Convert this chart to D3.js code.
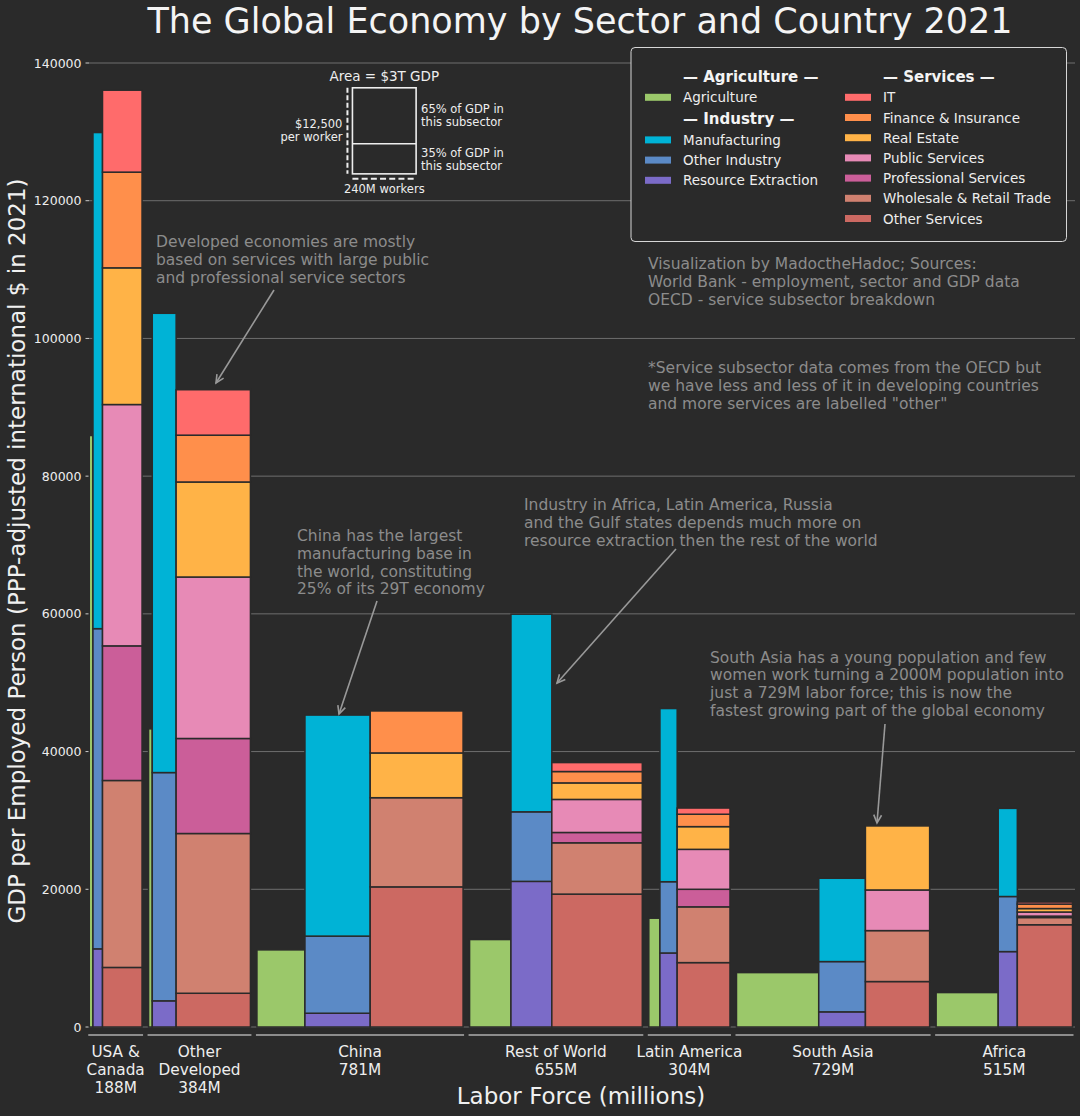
<!DOCTYPE html>
<html>
<head>
<meta charset="utf-8">
<script src="https://cdn.jsdelivr.net/npm/d3@7"></script>
<style>
  body { margin: 0; background: #2a2a2a; }
  svg { display: block; font-family: "DejaVu Sans", sans-serif; }
</style>
</head>
<body>
<div id="chart"></div>
<script>
// regions on the x axis and their labor force (millions)
var regions = ["USA &\nCanada", "Other\nDeveloped", "China", "Rest of World", "Latin America", "South Asia", "Africa"];
var laborForce = [188, 384, 781, 655, 304, 729, 515];

// workers per sector (millions) -> bar widths
var agriWorkers     = [14, 14, 181, 156, 42, 310, 234];
var industryWorkers = [36, 90, 246, 154, 65, 176, 72];
var serviceWorkers  = [149, 280, 350, 341, 199, 242, 208];

// GDP per employed person in agriculture
var agriGdp = [85900, 43300, 11200, 12700, 15800, 7900, 5000];

// industry subsectors, GDP per worker contributed (bottom -> top)
var resourceExtraction = [11350, 3800, 2000, 21150, 10750, 2200, 10950];
var otherIndustry      = [46500, 33150, 11200, 10100, 10350, 7300, 8000];
var manufacturing      = [72050, 66700, 32100, 28700, 25150, 12100, 12800];

// service subsectors, GDP per worker contributed (bottom -> top)
var otherServices  = [8650, 4900, 20350, 19300, 9350, 6600, 14850];
var wholesale      = [27150, 23200, 12950, 7450, 8100, 7400, 1050];
var professional   = [19550, 13800, 0, 1500, 2550, 0, 200];
var publicServices = [35050, 23450, 0, 4800, 5800, 5900, 600];
var realEstate     = [19850, 13800, 6500, 2400, 3300, 9300, 500];
var finance        = [13900, 6800, 6100, 1650, 1800, 0, 650];
var it             = [11900, 6600, 0, 1300, 900, 0, 300];

var yTicks = [0, 20000, 40000, 60000, 80000, 100000, 120000, 140000];

// example box: 240M workers at $12,500 = $3T
var exampleWorkers = 240, examplePerWorker = 12500, exampleShares = [0.35, 0.65];

var bg = "#2a2a2a";
var colors = {
  agriculture: "#9bc86a",
  manufacturing: "#00b3d6", otherIndustry: "#5b8ac6", resourceExtraction: "#7b6bc8",
  it: "#ff6b6b", finance: "#ff8f4b", realEstate: "#ffb347", publicServices: "#e78ab6",
  professional: "#cb5e99", wholesale: "#d08170", otherServices: "#cc6962"
};

var width = 1080, height = 1116;
var svg = d3.select("#chart").append("svg")
    .attr("width", width).attr("height", height);
svg.append("rect").attr("width", width).attr("height", height).attr("fill", bg);

// lay the bars side by side, sector widths in millions of workers
var groupGap = 24.5;
var layout = [];
var cursor = 0;
regions.forEach(function(r, i) {
  var a = agriWorkers[i], ind = industryWorkers[i], s = serviceWorkers[i];
  layout.push({
    start: cursor,
    agri: [cursor, cursor + a],
    ind: [cursor + a, cursor + a + ind],
    serv: [cursor + a + ind, cursor + a + ind + s],
    end: cursor + a + ind + s
  });
  cursor += a + ind + s + groupGap;
});
var xMax = cursor - groupGap;

var x = d3.scaleLinear().domain([0, xMax]).range([89.25, 1072.5]);
var y = d3.scaleLinear().domain([0, 140000]).range([1027, 63]);

// gridlines
svg.append("g").selectAll("line").data(yTicks).enter().append("line")
    .attr("x1", 89).attr("x2", 1075)
    .attr("y1", function(d) { return y(d); }).attr("y2", function(d) { return y(d); })
    .attr("stroke", "#6e6e6e").attr("stroke-width", 1);

// y axis ticks + labels
var yAxis = svg.append("g");
yAxis.selectAll("line").data(yTicks).enter().append("line")
    .attr("x1", 85.5).attr("x2", 89)
    .attr("y1", function(d) { return y(d); }).attr("y2", function(d) { return y(d); })
    .attr("stroke", "#cccccc").attr("stroke-width", 1);
yAxis.selectAll("text").data(yTicks).enter().append("text")
    .attr("x", 81.5).attr("y", function(d) { return y(d) + 4.5; })
    .attr("text-anchor", "end").attr("fill", "#eeeeee").attr("font-size", "12.5px")
    .text(function(d) { return d; });

// stacked tables
var industryKeys = ["resourceExtraction", "otherIndustry", "manufacturing"];
var serviceKeys = ["otherServices", "wholesale", "professional", "publicServices", "realEstate", "finance", "it"];
var rows = regions.map(function(r, i) {
  return {
    i: i,
    resourceExtraction: resourceExtraction[i], otherIndustry: otherIndustry[i], manufacturing: manufacturing[i],
    otherServices: otherServices[i], wholesale: wholesale[i], professional: professional[i],
    publicServices: publicServices[i], realEstate: realEstate[i], finance: finance[i], it: it[i]
  };
});
var industryStack = d3.stack().keys(industryKeys)(rows);
var serviceStack = d3.stack().keys(serviceKeys)(rows);

var bars = svg.append("g").attr("stroke", bg).attr("stroke-width", 1.5);

// agriculture bars
bars.append("g").selectAll("rect").data(agriGdp).enter().append("rect")
    .attr("fill", colors.agriculture)
    .attr("x", function(d, i) { return x(layout[i].agri[0]); })
    .attr("width", function(d, i) { return x(layout[i].agri[1]) - x(layout[i].agri[0]); })
    .attr("y", function(d) { return y(d); })
    .attr("height", function(d) { return y(0) - y(d); });

function drawStack(stack, sector) {
  bars.append("g").selectAll("g").data(stack).enter().append("g")
      .attr("fill", function(d) { return colors[d.key]; })
    .selectAll("rect")
    .data(function(d) { return d.filter(function(s) { return s[1] - s[0] > 0; }); })
    .enter().append("rect")
      .attr("x", function(d) { return x(layout[d.data.i][sector][0]); })
      .attr("width", function(d) { var b = layout[d.data.i][sector]; return x(b[1]) - x(b[0]); })
      .attr("y", function(d) { return y(d[1]); })
      .attr("height", function(d) { return y(d[0]) - y(d[1]); });
}
drawStack(industryStack, "ind");
drawStack(serviceStack, "serv");

// group underlines and category labels
svg.append("g").selectAll("line").data(layout).enter().append("line")
    .attr("x1", function(d) { return x(d.start) - 1; })
    .attr("x2", function(d) { return x(d.end) + 1; })
    .attr("y1", 1035).attr("y2", 1035)
    .attr("stroke", "#8c8c8c").attr("stroke-width", 2);

var cat = svg.append("g").attr("fill", "#eeeeee").attr("font-size", "15.3px").attr("text-anchor", "middle");
regions.forEach(function(r, i) {
  var lines = r.split("\n").concat([laborForce[i] + "M"]);
  var cx = x((layout[i].start + layout[i].end) / 2);
  lines.forEach(function(l, j) {
    cat.append("text").attr("x", cx).attr("y", 1057.3 + j * 17.9).text(l);
  });
});

// axis titles
svg.append("text").attr("x", 581).attr("y", 1103.5).attr("text-anchor", "middle")
    .attr("fill", "#f0f0f0").attr("font-size", "23px").text("Labor Force (millions)");
svg.append("text").attr("transform", "translate(24.5,551) rotate(-90)").attr("text-anchor", "middle")
    .attr("fill", "#f0f0f0").attr("font-size", "23px")
    .text("GDP per Employed Person (PPP-adjusted international $ in 2021)");
svg.append("text").attr("x", 580).attr("y", 33).attr("text-anchor", "middle")
    .attr("fill", "#f4f4f4").attr("font-size", "35px")
    .text("The Global Economy by Sector and Country 2021");

// example box drawn in data units
var ex0 = 992, exBase = 123900;
var exG = svg.append("g").attr("fill", "none").attr("stroke", "#eeeeee");
var bx0 = x(ex0), bx1 = x(ex0 + exampleWorkers), by0 = y(exBase), by1 = y(exBase + examplePerWorker);
exG.append("rect").attr("x", bx0).attr("y", by1).attr("width", bx1 - bx0).attr("height", by0 - by1)
    .attr("stroke-width", 1.6);
exG.append("line").attr("x1", bx0).attr("x2", bx1)
    .attr("y1", y(exBase + examplePerWorker * exampleShares[0]))
    .attr("y2", y(exBase + examplePerWorker * exampleShares[0])).attr("stroke-width", 1.6);
exG.append("line").attr("x1", bx0 - 5).attr("x2", bx0 - 5).attr("y1", by1).attr("y2", by0)
    .attr("stroke-width", 2).attr("stroke-dasharray", "5,2.5");
exG.append("line").attr("x1", bx0).attr("x2", bx1).attr("y1", by0 + 5).attr("y2", by0 + 5)
    .attr("stroke-width", 2).attr("stroke-dasharray", "6,3.2");
var exT = svg.append("g").attr("fill", "#eeeeee").attr("font-size", "11.5px");
exT.append("text").attr("x", (bx0 + bx1) / 2).attr("y", by1 - 7).attr("text-anchor", "middle")
    .attr("font-size", "13.5px").text("Area = $3T GDP");
exT.append("text").attr("x", bx0 - 10).attr("y", 128).attr("text-anchor", "end").text("$12,500");
exT.append("text").attr("x", bx0 - 10).attr("y", 141).attr("text-anchor", "end").text("per worker");
exT.append("text").attr("x", bx1 + 5).attr("y", 113).text("65% of GDP in");
exT.append("text").attr("x", bx1 + 5).attr("y", 126).text("this subsector");
exT.append("text").attr("x", bx1 + 5).attr("y", 156.5).text("35% of GDP in");
exT.append("text").attr("x", bx1 + 5).attr("y", 169.5).text("this subsector");
exT.append("text").attr("x", (bx0 + bx1) / 2).attr("y", by0 + 19).attr("text-anchor", "middle").text("240M workers");

// annotations
var notes = [
  {x: 156, y: 247, lines: ["Developed economies are mostly", "based on services with large public", "and professional service sectors"]},
  {x: 297, y: 541, lines: ["China has the largest", "manufacturing base in", "the world, constituting", "25% of its 29T economy"]},
  {x: 524, y: 510, lines: ["Industry in Africa, Latin America, Russia", "and the Gulf states depends much more on", "resource extraction then the rest of the world"]},
  {x: 710, y: 662.5, lines: ["South Asia has a young population and few", "women work turning a 2000M population into", "just a 729M labor force; this is now the", "fastest growing part of the global economy"]},
  {x: 648, y: 269, lines: ["Visualization by MadoctheHadoc; Sources:", "World Bank - employment, sector and GDP data", "OECD - service subsector breakdown"]},
  {x: 648, y: 373, lines: ["*Service subsector data comes from the OECD but", "we have less and less of it in developing countries", "and more services are labelled \"other\""]}
];
var arrows = [
  [274, 290, 216, 383],
  [377, 601, 339, 714],
  [676, 549, 557, 683],
  [885, 724, 877, 823]
];
var noteG = svg.append("g").attr("fill", "#8c8c8c").attr("font-size", "15.5px");
notes.forEach(function(n) {
  n.lines.forEach(function(l, j) {
    noteG.append("text").attr("x", n.x).attr("y", n.y + j * 17.8).text(l);
  });
});
var arrG = svg.append("g").attr("stroke", "#999999").attr("stroke-width", 1.6).attr("fill", "none");
arrows.forEach(function(a) {
  var ang = Math.atan2(a[3] - a[1], a[2] - a[0]), len = 9, spread = 0.45;
  arrG.append("line").attr("x1", a[0]).attr("y1", a[1]).attr("x2", a[2]).attr("y2", a[3]);
  arrG.append("path").attr("d",
    "M" + (a[2] - len * Math.cos(ang - spread)) + "," + (a[3] - len * Math.sin(ang - spread)) +
    "L" + a[2] + "," + a[3] +
    "L" + (a[2] - len * Math.cos(ang + spread)) + "," + (a[3] - len * Math.sin(ang + spread)));
});

// legend
var legendCols = [
  [{h: "— Agriculture —"}, {k: "agriculture", t: "Agriculture"},
   {h: "— Industry —"}, {k: "manufacturing", t: "Manufacturing"},
   {k: "otherIndustry", t: "Other Industry"}, {k: "resourceExtraction", t: "Resource Extraction"}],
  [{h: "— Services —"}, {k: "it", t: "IT"}, {k: "finance", t: "Finance & Insurance"},
   {k: "realEstate", t: "Real Estate"}, {k: "publicServices", t: "Public Services"},
   {k: "professional", t: "Professional Services"}, {k: "wholesale", t: "Wholesale & Retail Trade"},
   {k: "otherServices", t: "Other Services"}]
];
var leg = svg.append("g");
leg.append("rect").attr("x", 631).attr("y", 47.5).attr("width", 435.5).attr("height", 194)
    .attr("rx", 4).attr("fill", bg).attr("stroke", "#d6d6d6").attr("stroke-width", 1);
legendCols.forEach(function(col, c) {
  var sx = c === 0 ? 645 : 845, tx = sx + 38;
  var cy = 76;
  col.forEach(function(item, j) {
    if (j > 0) cy += (item.h || col[j - 1].h) ? 21.3 : 20.2;
    if (item.h) {
      leg.append("text").attr("x", tx).attr("y", cy + 5.5).attr("fill", "#f4f4f4")
          .attr("font-size", "15px").attr("font-weight", "bold").text(item.h);
    } else {
      leg.append("rect").attr("x", sx).attr("y", cy - 3.5).attr("width", 26).attr("height", 7)
          .attr("fill", colors[item.k]);
      leg.append("text").attr("x", tx).attr("y", cy + 5).attr("fill", "#eeeeee")
          .attr("font-size", "13.5px").text(item.t);
    }
  });
});
</script>
</body>
</html>
